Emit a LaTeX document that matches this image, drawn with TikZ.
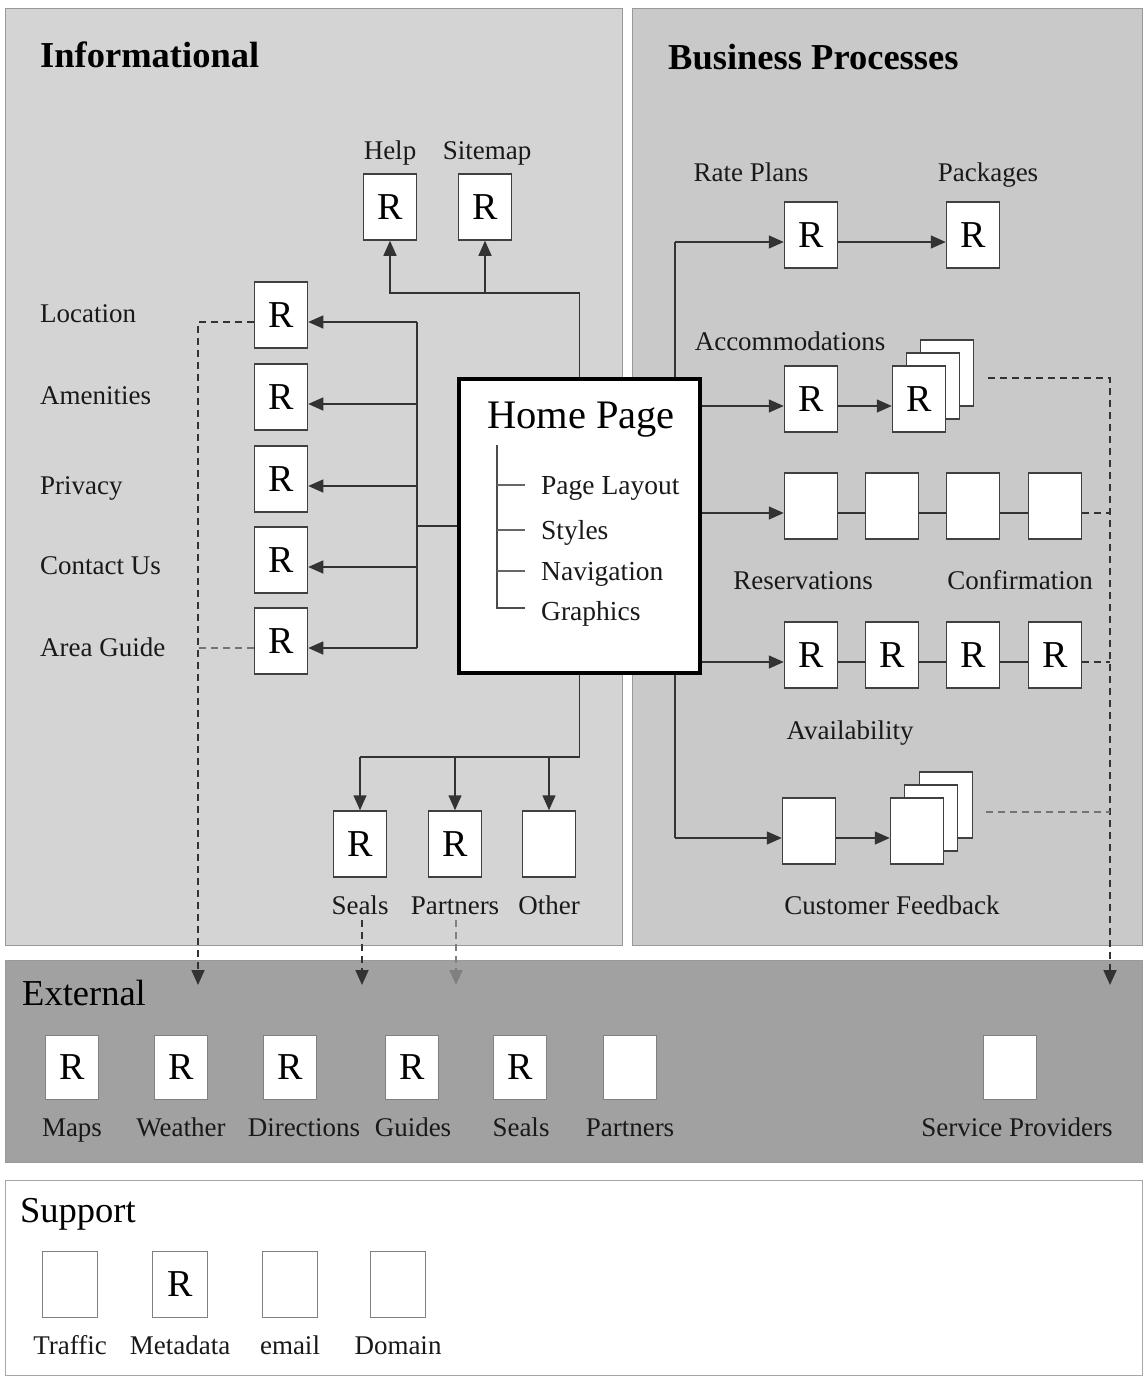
\documentclass[tikz,border=0pt]{standalone}
\usepackage{fontspec}
\setmainfont{Liberation Serif}
\usetikzlibrary{arrows.meta,calc}
\definecolor{infofill}{gray}{0.83}
\definecolor{busfill}{gray}{0.79}
\definecolor{extfill}{gray}{0.63}
\begin{document}
\begin{tikzpicture}[x=1pt,y=-1pt,
  rbox/.style={draw=black!75, fill=white, line width=1.5pt, minimum width=53pt, minimum height=66pt, inner sep=0pt, font=\fontsize{38}{40}\selectfont},
  ebox/.style={draw=black!50, fill=white, line width=1pt, minimum width=53pt, minimum height=64pt, inner sep=0pt, font=\fontsize{38}{40}\selectfont},
  lbl/.style={inner sep=0pt, anchor=base, font=\fontsize{27}{30}\selectfont, text=black!90},
  ttl/.style={inner sep=0pt, anchor=base west, font=\fontsize{36.5}{40}\selectfont\bfseries},
  sttl/.style={inner sep=0pt, anchor=base west, font=\fontsize{36.5}{40}\selectfont},
  conn/.style={line width=1.5pt, draw=black!80},
  arr/.style={conn, -{Triangle[length=15pt,width=13pt]}},
  dashconn/.style={line width=1.8pt, dash pattern=on 7pt off 5pt, draw=black!80},
  dasharr/.style={dashconn, -{Triangle[length=15pt,width=13pt]}},
]
\fill[white] (0,0) rectangle (1144,1376);
\useasboundingbox (0,0) rectangle (1144,1376);

% panels
\filldraw[fill=infofill, draw=black!40, line width=1pt] (5,8) rectangle (622,945);
\filldraw[fill=busfill, draw=black!40, line width=1pt] (632,8) rectangle (1142,945);
\filldraw[fill=extfill, draw=black!40, line width=1pt] (5,960) rectangle (1142,1162);
\filldraw[fill=white, draw=black!35, line width=1pt] (5,1180) rectangle (1142,1375);

\node[ttl] (infoT) at (40,67) {Informational};
\node[ttl] (busT) at (668,69) {Business Processes};
\node[sttl] (extT) at (22,1005) {External};
\node[sttl] (supT) at (20,1222) {Support};

% Help / Sitemap
\node[rbox] (help) at (390,207) {R};
\node[rbox] (sitemap) at (485,207) {R};
\node[lbl] (helpL) at (390,159) {Help};
\node[lbl] (sitemapL) at (487,159) {Sitemap};

% left column
\foreach \n/\y/\ly/\t in {loc/315/322/Location, amen/397/404/Amenities, priv/479/494/Privacy, cont/560/574/Contact Us, area/641/656/Area Guide} {
  \node[rbox] (\n) at (281,\y) {R};
  \node[lbl, anchor=base west] (\n lab) at (40,\ly) {\t};
  \coordinate (\n in) at ([yshift=-7pt]\n.east);
  \coordinate (\n out) at ([yshift=-7pt]\n.west);
}

% bottom informational
\node[rbox] (seals) at (360,844) {R};
\node[rbox] (partners) at (455,844) {R};
\node[rbox] (other) at (549,844) {};
\node[lbl] (sealsL) at (360,914) {Seals};
\node[lbl] (partnersL) at (455,914) {Partners};
\node[lbl] (otherL) at (549,914) {Other};

% business processes
\node[rbox] (rate) at (811,235) {R};
\node[rbox] (pack) at (973,235) {R};
\node[lbl] (rateL) at (751,181) {Rate Plans};
\node[lbl] (packL) at (988,181) {Packages};

\node[lbl] (accL) at (790,350) {Accommodations};
\node[rbox] (acc) at (811,399) {R};
\node[rbox] (accC) at (947,373) {};
\node[rbox] (accB) at (933,386) {};
\node[rbox] (accA) at (919,399) {R};

\foreach \n/\x in {1/811,2/892,3/973,4/1055} {
  \node[rbox] (res\n) at (\x,506) {};
  \node[rbox] (av\n) at (\x,655) {R};
}
\node[lbl] (resL) at (803,589) {Reservations};
\node[lbl] (confL) at (1020,589) {Confirmation};
\node[lbl] (avL) at (850,739) {Availability};

\node[rbox] (fb) at (809,831) {};
\node[rbox] (fbC) at (946,805) {};
\node[rbox] (fbB) at (931,818) {};
\node[rbox] (fbA) at (917,831) {};
\node[lbl] (fbL) at (892,914) {Customer Feedback};

% anchor coordinates
\foreach \n in {rate,pack,acc,accA,res1,res2,res3,res4,av1,av2,av3,av4,fb,fbA} {
  \coordinate (\n in) at ([yshift=-7pt]\n.west);
  \coordinate (\n out) at ([yshift=-7pt]\n.east);
}
\coordinate (accdash) at ([xshift=14pt,yshift=-5pt]accC.east);
\coordinate (fbdash) at ([xshift=13pt,yshift=-7pt]fbC.east);

\coordinate (rbx) at (675,0);
\coordinate (rdx) at (1110,0);
\coordinate (ldx) at (198,0);
\coordinate (extin) at (0,985);

% right vertical bus (behind home page)
\draw[conn] (ratein -| rbx) -- (fbin -| rbx);

% home page
\node[draw=black, line width=4pt, fill=white, minimum width=241pt, minimum height=294pt, inner sep=0pt] (home) at (579.5,526) {};
\node[inner sep=0pt, anchor=base, font=\fontsize{40.5}{44}\selectfont] (homeT) at (581,428) {Home Page};
\draw[line width=1.2pt, black!70] (497,445) -- (497,608) -- (525,608);
\foreach \y in {485,530,571} \draw[line width=1.2pt, black!60] (497,\y) -- (525,\y);
\node[lbl, anchor=base west, font=\fontsize{27.5}{30}\selectfont] (hp1) at (541,494) {Page Layout};
\node[lbl, anchor=base west, font=\fontsize{27.5}{30}\selectfont] (hp2) at (541,539) {Styles};
\node[lbl, anchor=base west, font=\fontsize{27.5}{30}\selectfont] (hp3) at (541,580) {Navigation};
\node[lbl, anchor=base west, font=\fontsize{27.5}{30}\selectfont] (hp4) at (541,620) {Graphics};

% top connectors
\coordinate (topbus) at (579.5,293);
\draw[arr] (home.north) -- (topbus) -| (help.south);
\draw[arr] (sitemap.south |- topbus) -- (sitemap.south);

% left connectors
\coordinate (lbus) at (417,526);
\draw[conn] (home.west) -- (lbus);
\draw[conn] (locin -| lbus) -- (areain -| lbus);
\foreach \n in {loc,amen,priv,cont,area} \draw[arr] (\n in -| lbus) -- (\n in);
\draw[dasharr] (locout) -| (ldx |- extin);
\draw[dashconn, draw=black!55] (areaout) -- (areaout -| ldx);

% bottom connectors
\coordinate (bbus) at (579.5,757);
\draw[conn] (home.south) -- (bbus) -- (seals.north |- bbus);
\foreach \n in {seals,partners,other} \draw[arr] (\n.north |- bbus) -- (\n.north);
\draw[dasharr] ([xshift=2pt,yshift=-6pt]sealsL.base) -- ([xshift=2pt]sealsL.base |- extin);
\draw[dasharr, draw=black!50] ([xshift=1pt,yshift=-6pt]partnersL.base) -- ([xshift=1pt]partnersL.base |- extin);

% business connectors
\draw[arr] (ratein -| rbx) -- (ratein);
\draw[arr] (rateout) -- (packin);
\draw[arr] (accin -| home.east) -- (accin);
\draw[arr] (accout) -- (accAin);
\draw[arr] (res1in -| home.east) -- (res1in);
\draw[conn] (res1out) -- (res2in) (res2out) -- (res3in) (res3out) -- (res4in);
\draw[arr] (av1in -| home.east) -- (av1in);
\draw[conn] (av1out) -- (av2in) (av2out) -- (av3in) (av3out) -- (av4in);
\draw[arr] (fbin -| rbx) -- (fbin);
\draw[arr] (fbout) -- (fbAin);

\draw[dasharr] (accdash) -| (rdx |- extin);
\draw[dashconn] (res4out) -- (res4out -| rdx);
\draw[dashconn] (av4out) -- (av4out -| rdx);
\draw[dashconn, draw=black!55] (fbdash) -- (fbdash -| rdx);

% external
\foreach \n/\x/\t/\r/\lx in {maps/72/Maps/R/72, weather/181/Weather/R/181, dirs/290/Directions/R/304, guides/412/Guides/R/413, eseals/520/Seals/R/521, epart/630/Partners//630, serv/1010/Service Providers//1017} {
  \node[ebox] (\n) at (\x,1067) {\r};
  \node[lbl] (\n lab) at (\lx,1136) {\t};
}

% support
\foreach \n/\x/\t/\r in {traffic/70/Traffic/, meta/180/Metadata/R, email/290/email/, domain/398/Domain/} {
  \node[ebox, minimum width=55pt, minimum height=66pt] (\n) at (\x,1284) {\r};
  \node[lbl] (\n lab) at (\x,1354) {\t};
}
\end{tikzpicture}
\end{document}
